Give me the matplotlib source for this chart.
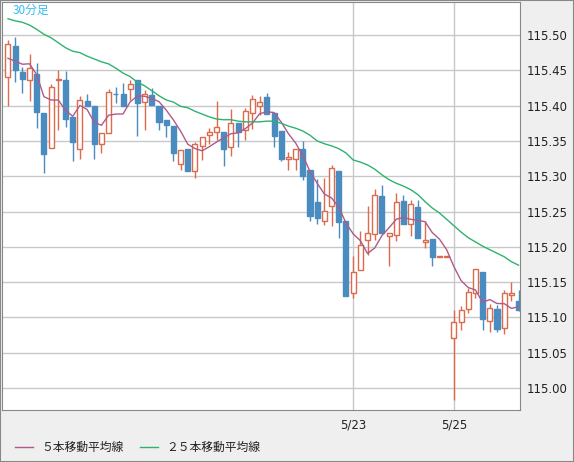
import matplotlib
matplotlib.use("Agg")
import matplotlib.pyplot as plt
import numpy as np

plt.rcParams['font.family'] = ['Noto Sans CJK JP', 'DejaVu Sans']

opens = [115.441,115.484,115.448,115.436,115.445,115.389,115.340,115.436,115.436,115.384,115.338,115.407,115.400,115.345,115.361,115.417,115.416,115.423,115.436,115.405,115.415,115.400,115.380,115.371,115.318,115.339,115.308,115.343,115.358,115.362,115.363,115.341,115.375,115.366,115.390,115.400,115.412,115.389,
         115.364,115.324,115.325,115.339,115.309,115.264,115.237,115.258,115.307,115.237,115.135,115.167,115.210,115.218,115.272,115.216,115.217,115.265,115.232,115.257,115.207,115.211,115.186,115.186,115.071,115.093,115.112,115.134,115.164,115.095,115.112,115.085,115.132,115.124]
closes = [115.487,115.450,115.438,115.453,115.391,115.331,115.427,115.437,115.381,115.348,115.408,115.399,115.345,115.361,115.419,115.416,115.400,115.431,115.403,115.416,115.401,115.377,115.372,115.333,115.337,115.308,115.346,115.356,115.362,115.370,115.338,115.375,115.362,115.392,115.409,115.405,115.388,115.357,
          115.324,115.327,115.339,115.300,115.243,115.241,115.251,115.311,115.235,115.131,115.164,115.203,115.220,115.274,115.219,115.220,115.263,115.232,115.261,115.212,115.210,115.186,115.186,115.186,115.093,115.111,115.136,115.169,115.098,115.113,115.083,115.135,115.135,115.111]
highs = [115.493,115.497,115.455,115.473,115.461,115.389,115.431,115.450,115.449,115.384,115.414,115.416,115.400,115.361,115.423,115.427,115.432,115.436,115.436,115.422,115.425,115.400,115.380,115.371,115.337,115.339,115.349,115.356,115.369,115.407,115.363,115.395,115.375,115.397,115.415,115.413,115.418,115.389,
         115.364,115.335,115.339,115.350,115.309,115.296,115.297,115.316,115.307,115.237,115.187,115.222,115.258,115.282,115.287,115.220,115.276,115.274,115.267,115.267,115.236,115.211,115.186,115.186,115.110,115.116,115.142,115.169,115.164,115.119,115.118,115.139,115.150,115.139]
lows = [115.400,115.433,115.418,115.406,115.369,115.304,115.340,115.366,115.370,115.322,115.324,115.399,115.324,115.333,115.361,115.404,115.400,115.408,115.357,115.365,115.401,115.365,115.355,115.321,115.309,115.308,115.297,115.323,115.346,115.351,115.314,115.328,115.341,115.352,115.367,115.386,115.388,115.342,
        115.322,115.309,115.309,115.295,115.237,115.233,115.231,115.229,115.213,115.131,115.128,115.167,115.188,115.210,115.219,115.173,115.209,115.232,115.215,115.212,115.198,115.173,115.186,115.186,114.983,115.082,115.106,115.128,115.082,115.079,115.080,115.076,115.124,115.109]
prior_closes = [115.470, 115.460, 115.450, 115.468]
ma25 = [115.523,115.520,115.518,115.514,115.508,115.501,115.496,115.489,115.482,115.477,115.475,115.470,115.466,115.462,115.459,115.453,115.446,115.441,115.433,115.428,115.421,115.414,115.408,115.405,115.399,115.397,115.392,115.388,115.384,115.381,115.380,115.380,115.378,115.377,115.377,115.377,115.378,115.378,
        115.375,115.371,115.368,115.364,115.358,115.350,115.346,115.343,115.339,115.333,115.323,115.320,115.316,115.310,115.302,115.295,115.290,115.286,115.281,115.274,115.264,115.255,115.248,115.239,115.230,115.221,115.213,115.207,115.201,115.196,115.191,115.186,115.179,115.174]
yticks = [115.00,115.05,115.10,115.15,115.20,115.25,115.30,115.35,115.40,115.45,115.50]
date_idx = [48, 62]
date_labels = ['5/23', '5/25']

UP = '#dc6a4c'; DN = '#4a8bc0'
fig = plt.figure(figsize=(5.74, 4.62), dpi=100, facecolor='#efefef')
ax = fig.add_axes([2/574, 1-410/462, 518/574, 408/462], facecolor='white')
n = len(closes)
x = np.arange(n)
for yv in yticks:
    ax.axhline(yv, color='#c8c8c8', lw=1, zorder=0)
for d in date_idx:
    ax.axvline(d, color='#c8c8c8', lw=1, zorder=0)
w = 0.7
for i in range(n):
    o, c, h, l = opens[i], closes[i], highs[i], lows[i]
    col = UP if c >= o else DN
    ax.vlines(i, l, h, color=col, lw=1, zorder=2)
    lo, hi = min(o, c), max(o, c)
    if c >= o:
        ax.add_patch(plt.Rectangle((i-w/2, lo), w, max(hi-lo, 0.0008), facecolor='white', edgecolor=col, lw=1, zorder=3))
    else:
        ax.add_patch(plt.Rectangle((i-w/2, lo), w, max(hi-lo, 0.0008), facecolor=col, edgecolor=col, lw=1, zorder=3))
allc = np.array(prior_closes + closes)
ma5 = np.convolve(allc, np.ones(5)/5, mode='valid')
ax.plot(x, ma5, color='#b05a8a', lw=1, zorder=4)
ax.plot(x, ma25, color='#2db36e', lw=1, zorder=4)
ax.set_xlim(-0.83, 71.2)
ax.set_ylim(114.969, 115.5467)
ax.yaxis.tick_right()
ax.set_yticks(yticks)
ax.set_yticklabels([f'{v:.2f}' for v in yticks], fontsize=8.5, color='#222222', family=['DejaVu Sans'])
ax.tick_params(axis='y', length=0, pad=5)
ax.set_xticks(date_idx)
ax.set_xticklabels(date_labels, fontsize=8.5, color='#222222', family=['DejaVu Sans'])
ax.tick_params(axis='x', length=0, pad=6)
for s in ax.spines.values():
    s.set_color('#888888')
ax.text(0.02, 0.995, '30分足', transform=ax.transAxes, ha='left', va='top', color='#33bbee', fontsize=8.5)
fig.lines.append(plt.Line2D([15/574, 33/574], [1-447/462]*2, color='#b05a8a', lw=1, transform=fig.transFigure))
fig.text(41/574, 1-447/462, '５本移動平均線', fontsize=8.5, va='center', color='#222222')
fig.lines.append(plt.Line2D([140/574, 158/574], [1-447/462]*2, color='#2db36e', lw=1, transform=fig.transFigure))
fig.text(166/574, 1-447/462, '２５本移動平均線', fontsize=8.5, va='center', color='#222222')
fig.patches.append(plt.Rectangle((0, 0), 1, 1, transform=fig.transFigure, fill=False, edgecolor='#888888', lw=1.5))
fig.savefig('out.png', dpi=100, facecolor=fig.get_facecolor())
